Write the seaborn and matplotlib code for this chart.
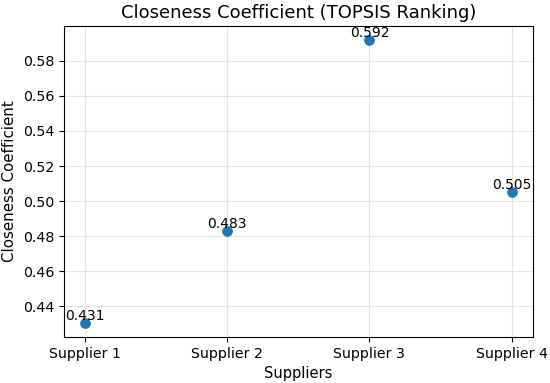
import matplotlib
matplotlib.use("Agg")
import pandas as pd
import seaborn as sns
import matplotlib.pyplot as plt

# データ
suppliers = ["Supplier 1", "Supplier 2", "Supplier 3", "Supplier 4"]
closeness = [0.4306, 0.4830, 0.5917, 0.5050]

df = pd.DataFrame({"Suppliers": suppliers, "Closeness Coefficient": closeness})

plt.figure(figsize=(5.5, 3.83), dpi=100)
ax = sns.scatterplot(data=df, x="Suppliers", y="Closeness Coefficient", s=50,
                     color="#1f77b4", edgecolor="#1f77b4", zorder=3)

# 値ラベル
for i, v in enumerate(closeness):
    ax.text(i, v, f"{v:.3f}", ha="center", va="bottom", fontsize=10)

ax.set_title("Closeness Coefficient (TOPSIS Ranking)", fontsize=13)
ax.set_xlabel("Suppliers", fontsize=10.5)
ax.set_ylabel("Closeness Coefficient", fontsize=10.8)
ax.tick_params(labelsize=10.2)
ax.grid(True, color="#e3e3e3", linewidth=0.8)
ax.set_axisbelow(True)
plt.subplots_adjust(left=0.116, right=0.969, top=0.932, bottom=0.12)
plt.savefig("out.png", dpi=100)
